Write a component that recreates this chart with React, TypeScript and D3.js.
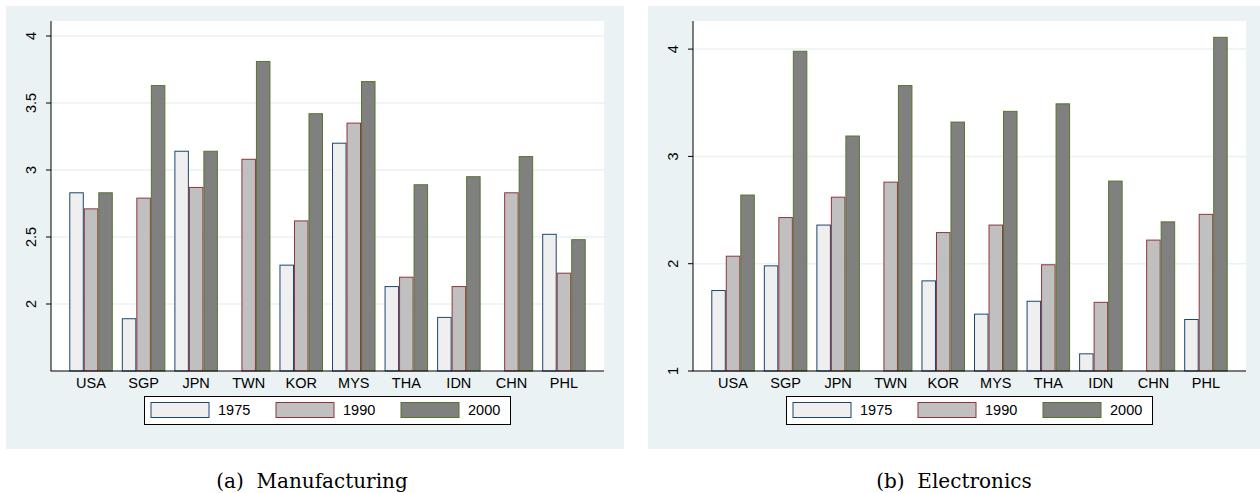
import React from 'react';
import * as d3 from 'd3';

const countries = ['USA', 'SGP', 'JPN', 'TWN', 'KOR', 'MYS', 'THA', 'IDN', 'CHN', 'PHL'];
const years = ['1975', '1990', '2000'];

// Manufacturing
const manuf1975 = [2.83, 1.89, 3.14, null, 2.29, 3.2, 2.13, 1.9, null, 2.52];
const manuf1990 = [2.71, 2.79, 2.87, 3.08, 2.62, 3.35, 2.2, 2.13, 2.83, 2.23];
const manuf2000 = [2.83, 3.63, 3.14, 3.81, 3.42, 3.66, 2.89, 2.95, 3.1, 2.48];
const manufTicks = [2, 2.5, 3, 3.5, 4];

// Electronics
const elec1975 = [1.75, 1.98, 2.36, null, 1.84, 1.53, 1.65, 1.16, null, 1.48];
const elec1990 = [2.07, 2.43, 2.62, 2.76, 2.29, 2.36, 1.99, 1.64, 2.22, 2.46];
const elec2000 = [2.64, 3.98, 3.19, 3.66, 3.32, 3.42, 3.49, 2.77, 2.39, 4.11];
const elecTicks = [1, 2, 3, 4];

const fills = ['#efefef', '#c0c0c0', '#808080'];
const strokes = ['#1a476f', '#90353b', '#55752f'];
const BG = '#eaf2f3';
const SANS = '"Liberation Sans", Arial, sans-serif';

// panel geometry (local to each panel)
const PW = 618;
const PH = 443;
const L = 45;
const R = 598;
const T = 21;
const B = 371;

type Series = (number | null)[];

function Panel({ x, series, domain, ticks, caption }: { x: number; series: Series[]; domain: [number, number]; ticks: number[]; caption: string }) {
  const x0 = d3.scaleBand<string>().domain(countries).range([L, R]).paddingInner(0.172).paddingOuter(0.348);
  const x1 = d3.scaleBand<string>().domain(years).range([0, x0.bandwidth()]);
  const y = d3.scaleLinear().domain(domain).range([B, T]);
  const fmt = d3.format('~g');

  const lg = d3.scaleBand<string>().domain(years).range([144 - 6, 144 - 6 + 375]);

  return (
    <g transform={`translate(${x},0)`}>
      <rect x={0} y={6} width={PW} height={PH} fill={BG} />
      <rect x={L} y={T} width={R - L} height={B - T} fill="#fff" />
      {ticks.map(t => (
        <g key={t}>
          <line x1={L} x2={R} y1={y(t)} y2={y(t)} stroke={BG} strokeWidth={1.5} />
          <line x1={L - 5} x2={L} y1={y(t)} y2={y(t)} stroke="#000" strokeWidth={1} />
          <text transform={`translate(${L - 20},${y(t)}) rotate(-90)`} textAnchor="middle" dy="0.36em"
            fontFamily={SANS} fontSize={14.5} fill="#000">{fmt(t)}</text>
        </g>
      ))}
      {countries.map((c, i) => (
        <g key={c} transform={`translate(${x0(c)},0)`}>
          {series.map((s, j) => {
            const v = s[i];
            if (v == null) return null;
            return (
              <rect key={j} x={(x1(years[j]) ?? 0) + 0.5} y={y(v)} width={x1.bandwidth() - 1} height={B - y(v)}
                fill={fills[j]} stroke={strokes[j]} strokeWidth={1} />
            );
          })}
          <text x={x0.bandwidth() / 2} y={B + 12} dy="0.36em" textAnchor="middle" fontFamily={SANS} fontSize={14.5}>{c}</text>
        </g>
      ))}
      <line x1={L} x2={L} y1={T} y2={B} stroke="#000" strokeWidth={1} />
      <line x1={L - 0.5} x2={R} y1={B} y2={B} stroke="#000" strokeWidth={1.2} />
      <rect x={138.5} y={396.5} width={366} height={28} fill="#fff" stroke="#000" strokeWidth={1} />
      {years.map((yr, j) => (
        <g key={yr} transform={`translate(${(lg(yr) ?? 0) + 7},0)`}>
          <rect x={0} y={402.5} width={58} height={15} fill={fills[j]} stroke={strokes[j]} strokeWidth={1} />
          <text x={67} y={410} dy="0.36em" fontFamily={SANS} fontSize={14.5}>{yr}</text>
        </g>
      ))}
      <text x={PW / 2 - 3} y={488} textAnchor="middle" fontFamily='"DejaVu Serif", serif' fontSize={20} style={{ whiteSpace: 'pre' }}>{caption}</text>
    </g>
  );
}

export default function App() {
  return (
    <svg width={1260} height={493} style={{ position: 'absolute', left: 0, top: 0, background: '#fff' }}>
      <g transform="translate(0,0)">
        <Panel x={6} series={[manuf1975, manuf1990, manuf2000]} domain={[1.5, 4.112]} ticks={manufTicks} caption="(a)  Manufacturing" />
        <Panel x={648} series={[elec1975, elec1990, elec2000]} domain={[1, 4.262]} ticks={elecTicks} caption="(b)  Electronics" />
      </g>
    </svg>
  );
}
